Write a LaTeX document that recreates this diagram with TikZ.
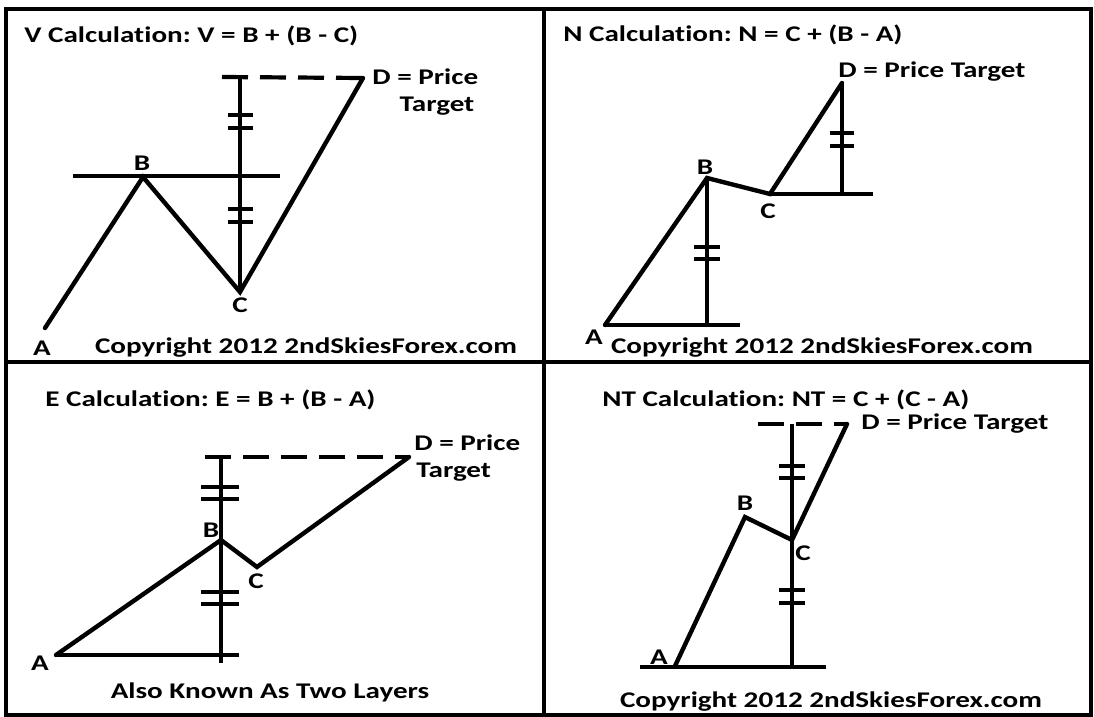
\documentclass[tikz,border=0pt]{standalone}
\usepackage{fontspec}
\setmainfont{Carlito}[FakeStretch=1.3, Ligatures=NoCommon]
\usepackage{tikz}
\usetikzlibrary{positioning}
\frenchspacing

\begin{document}
\begin{tikzpicture}[x=0.5pt, y=-0.5pt,
    leg/.style={line width=2.2pt, line join=miter, line cap=round},
    guide/.style={line width=2.1pt},
    target/.style={line width=2.1pt, dash pattern=on 13pt off 6pt},
    tick/.style={line width=1.7pt},
    lbl/.style={font=\fontsize{11.2}{13}\selectfont\bfseries, inner sep=0pt},
    txt/.style={lbl, anchor=west}]
  \useasboundingbox (0,0) rectangle (1094,717);
  \fill[white] (0,0) rectangle (1094,717);

  % Frame
  \draw[line width=2pt] (5.5,9) rectangle (1091,715);
  \draw[line width=2pt] (543.5,9) -- (543.5,715);
  \draw[line width=2pt] (5.5,362) -- (1091,362);

  % V calculation
  \coordinate (vA) at (45,328);
  \coordinate (vB) at (143,177);
  \coordinate (vC) at (240,292);
  \coordinate (vD) at (363,78);
  \coordinate (vTop) at (240,77);
  \coordinate (vDash) at (222,77);
  \coordinate (vLeft) at (73,176);
  \coordinate (vRight) at (280,176);
  \draw[guide] (vLeft) -- (vRight);
  \draw[guide] (vC) -- (vTop);
  \draw[target] (vDash) -- (vD);
  \draw[leg] (vA) -- (vB) -- (vC) -- (vD);
  \foreach \y in {115,128,209,222}
    \draw[tick] (228,\y) -- (253,\y);

  \node[txt] (vTitle) at (24,36) {V Calculation: V = B + (B - C)};
  \node[lbl] (vLblA) at (42,348) {A};
  \node[lbl] (vLblB) at (142,163) {B};
  \node[lbl] (vLblC) at (240,305) {C};
  \node[txt] (vLblD) at (372,77) {D = Price};
  \node[lbl] (vLblT) at (437,106) {Target};
  \node[lbl] (vCopy) at (306,348) {Copyright 2012 2ndSkiesForex.com};

  % N calculation
  \coordinate (nA) at (605,325);
  \coordinate (nB) at (707,178);
  \coordinate (nC) at (770,194);
  \coordinate (nD) at (842,83);
  \coordinate (nBase) at (740,325);
  \coordinate (nFoot) at (707,325);
  \coordinate (nShelf) at (873,194);
  \coordinate (nStem) at (842,194);
  \draw[guide] (nA) -- (nBase);
  \draw[guide] (nB) -- (nFoot);
  \draw[guide] (nC) -- (nShelf);
  \draw[guide] (nD) -- (nStem);
  \draw[leg] (nA) -- (nB) -- (nC) -- (nD);
  \foreach \y in {247,259}
    \draw[tick] (694,\y) -- (720,\y);
  \foreach \y in {133,146}
    \draw[tick] (830,\y) -- (854,\y);

  \node[txt] (nTitle) at (563,35) {N Calculation: N = C + (B - A)};
  \node[lbl] (nLblA) at (594,337) {A};
  \node[lbl] (nLblB) at (705,167) {B};
  \node[lbl] (nLblC) at (768,211) {C};
  \node[txt] (nLblD) at (838,72) {D = Price Target};
  \node[lbl] (nCopy) at (822,348) {Copyright 2012 2ndSkiesForex.com};

  % E calculation
  \coordinate (eA) at (56,655);
  \coordinate (eB) at (221,540);
  \coordinate (eC) at (257,567);
  \coordinate (eD) at (409,457);
  \coordinate (eBase) at (239,655);
  \coordinate (eTop) at (221,457);
  \coordinate (eFoot) at (221,663);
  \coordinate (eDash) at (205,457);
  \draw[guide] (eA) -- (eBase);
  \draw[guide] (eTop) -- (eFoot);
  \draw[target] (eDash) -- (eD);
  \draw[leg] (eA) -- (eB) -- (eC) -- (eD);
  \foreach \y in {487,499,592,604}
    \draw[tick] (201,\y) -- (239,\y);

  \node[txt] (eTitle) at (45,400) {E Calculation: E = B + (B - A)};
  \node[lbl] (eLblA) at (40,663) {A};
  \node[lbl] (eLblB) at (211,530) {B};
  \node[lbl] (eLblC) at (256,581) {C};
  \node[txt] (eLblD) at (414,443) {D = Price};
  \node[txt] (eLblT) at (416,472) {Target};
  \node[lbl] (eNote) at (270,692) {Also Known As Two Layers};

  % NT calculation
  \coordinate (tA) at (675,666);
  \coordinate (tB) at (745,517);
  \coordinate (tC) at (792,540);
  \coordinate (tD) at (847,424);
  \coordinate (tLeft) at (640,667);
  \coordinate (tRight) at (826,667);
  \coordinate (tTop) at (792,424);
  \coordinate (tFoot) at (792,667);
  \coordinate (tDash) at (758,424);
  \draw[guide] (tLeft) -- (tRight);
  \draw[guide] (tTop) -- (tFoot);
  \draw[target] (tDash) -- (tD);
  \draw[leg] (tA) -- (tB) -- (tC) -- (tD);
  \foreach \y in {466,478,590,603}
    \draw[tick] (779,\y) -- (805,\y);

  \node[txt] (tTitle) at (602,400) {NT Calculation: NT = C + (C - A)};
  \node[lbl] (tLblA) at (659,657) {A};
  \node[lbl] (tLblB) at (745,503) {B};
  \node[lbl] (tLblC) at (803,553) {C};
  \node[txt] (tLblD) at (861,424) {D = Price Target};
  \node[lbl] (tCopy) at (831,702) {Copyright 2012 2ndSkiesForex.com};
\end{tikzpicture}
\end{document}
